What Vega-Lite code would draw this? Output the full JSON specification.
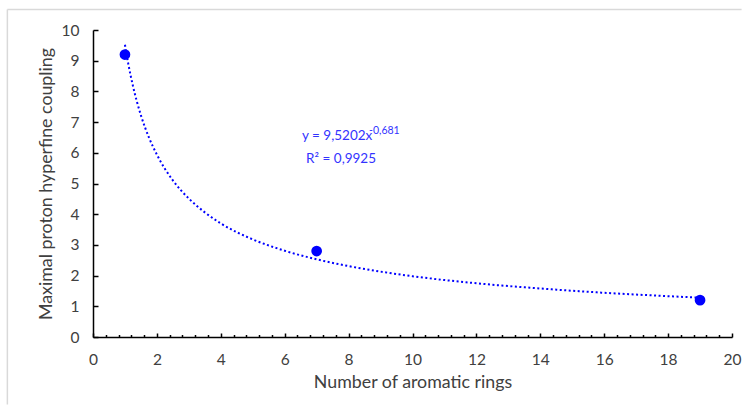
{
  "$schema": "https://vega.github.io/schema/vega-lite/v6.json",
  "width": 639,
  "height": 307,
  "autosize": "none",
  "padding": {"left": 93, "top": 30, "right": 17, "bottom": 79},
  "background": "white",
  "config": {
    "view": {"stroke": null},
    "font": "Lato",
    "scale": {"continuousPadding": 0},
    "axis": {
      "domainColor": "#000000",
      "domainWidth": 1.5,
      "tickColor": "#000000",
      "tickWidth": 1.5,
      "grid": false,
      "labelFlush": false,
      "labelFont": "Lato",
      "labelFontSize": 15.5,
      "labelColor": "#404040",
      "titleFont": "Lato",
      "titleFontSize": 17.8,
      "titleFontWeight": "normal",
      "titleColor": "#404040"
    }
  },
  "datasets": {
    "frame": [
      {"xa": -2.68, "xb": -2.68, "ya": -2.2, "yb": 10.67},
      {"xa": -2.68, "xb": 20.3, "ya": 10.67, "yb": 10.67}
    ],
    "trend": [
      {"x": 1, "y": 9.52}, {"x": 1.1, "y": 8.92}, {"x": 1.25, "y": 8.18}, {"x": 1.5, "y": 7.22},
      {"x": 1.75, "y": 6.5}, {"x": 2, "y": 5.94}, {"x": 2.5, "y": 5.1}, {"x": 3, "y": 4.51},
      {"x": 3.5, "y": 4.06}, {"x": 4, "y": 3.7}, {"x": 5, "y": 3.18}, {"x": 6, "y": 2.81},
      {"x": 7, "y": 2.53}, {"x": 8, "y": 2.31}, {"x": 9, "y": 2.13}, {"x": 10, "y": 1.98},
      {"x": 12, "y": 1.75}, {"x": 14, "y": 1.58}, {"x": 16, "y": 1.44}, {"x": 18, "y": 1.33},
      {"x": 19, "y": 1.28}
    ],
    "points": [
      {"rings": 1, "coupling": 9.2},
      {"rings": 7, "coupling": 2.8},
      {"rings": 19, "coupling": 1.2}
    ],
    "labels": [
      {"text": "y = 9,5202x", "x": 6.54, "y": 6.42, "kind": "main"},
      {"text": "-0,681", "x": 8.64, "y": 6.6, "kind": "sup"},
      {"text": "R² = 0,9925", "x": 6.67, "y": 5.67, "kind": "main"}
    ]
  },
  "resolve": {"axis": {"x": "independent"}},
  "layer": [
    {
      "data": {"name": "trend"},
      "mark": {"type": "line", "color": "#0000ff", "strokeWidth": 2, "strokeDash": [2, 2.5], "interpolate": "monotone"},
      "encoding": {
        "x": {"field": "x", "type": "quantitative", "scale": {"domain": [0, 20], "nice": false, "padding": 0},
              "axis": {"orient": "bottom", "values": [0, 2, 4, 6, 8, 10, 12, 14, 16, 18, 20], "tickSize": -4, "labelPadding": 19, "title": "Number of aromatic rings", "titlePadding": 6}},
        "y": {"field": "y", "type": "quantitative", "scale": {"domain": [0, 10], "nice": false, "padding": 0},
              "axis": {"values": [0, 1, 2, 3, 4, 5, 6, 7, 8, 9, 10], "tickSize": -5, "labelPadding": 19, "title": "Maximal proton hyperfine coupling", "titlePadding": 6}}
      }
    },
    {
      "data": {"name": "points"},
      "mark": {"type": "point", "filled": true, "size": 115, "color": "#0000ff", "opacity": 1},
      "encoding": {
        "x": {"field": "rings", "type": "quantitative",
              "axis": {"orient": "bottom", "values": [0.4, 0.8, 1.2, 1.6, 2.4, 2.8, 3.2, 3.6, 4.4, 4.8, 5.2, 5.6, 6.4, 6.8, 7.2, 7.6, 8.4, 8.8, 9.2, 9.6, 10.4, 10.8, 11.2, 11.6, 12.4, 12.8, 13.2, 13.6, 14.4, 14.8, 15.2, 15.6, 16.4, 16.8, 17.2, 17.6, 18.4, 18.8, 19.2, 19.6],
                       "tickSize": -2.5, "labels": false, "domain": false, "title": null}},
        "y": {"field": "coupling", "type": "quantitative",
              "axis": {"values": [0, 1, 2, 3, 4, 5, 6, 7, 8, 9, 10], "tickSize": -5, "labelPadding": 19, "title": "Maximal proton hyperfine coupling", "titlePadding": 6}}
      }
    },
    {
      "data": {"name": "labels"},
      "mark": {"type": "text", "align": "left", "baseline": "alphabetic", "color": "#3333ff", "font": "Lato"},
      "encoding": {
        "x": {"field": "x", "type": "quantitative", "axis": null},
        "y": {"field": "y", "type": "quantitative",
              "axis": {"values": [0, 1, 2, 3, 4, 5, 6, 7, 8, 9, 10], "tickSize": -5, "labelPadding": 19, "title": "Maximal proton hyperfine coupling", "titlePadding": 6}},
        "text": {"field": "text"},
        "size": {"field": "kind", "type": "nominal", "scale": {"domain": ["main", "sup"], "range": [13.5, 10.5]}, "legend": null}
      }
    },
    {
      "data": {"name": "frame"},
      "mark": {"type": "rule", "stroke": "#d9d9d9", "strokeWidth": 1.5, "clip": false},
      "encoding": {
        "x": {"field": "xa", "type": "quantitative", "axis": null},
        "x2": {"field": "xb"},
        "y": {"field": "ya", "type": "quantitative",
              "axis": {"values": [0, 1, 2, 3, 4, 5, 6, 7, 8, 9, 10], "tickSize": -5, "labelPadding": 19, "title": "Maximal proton hyperfine coupling", "titlePadding": 6}},
        "y2": {"field": "yb"}
      }
    }
  ]
}
